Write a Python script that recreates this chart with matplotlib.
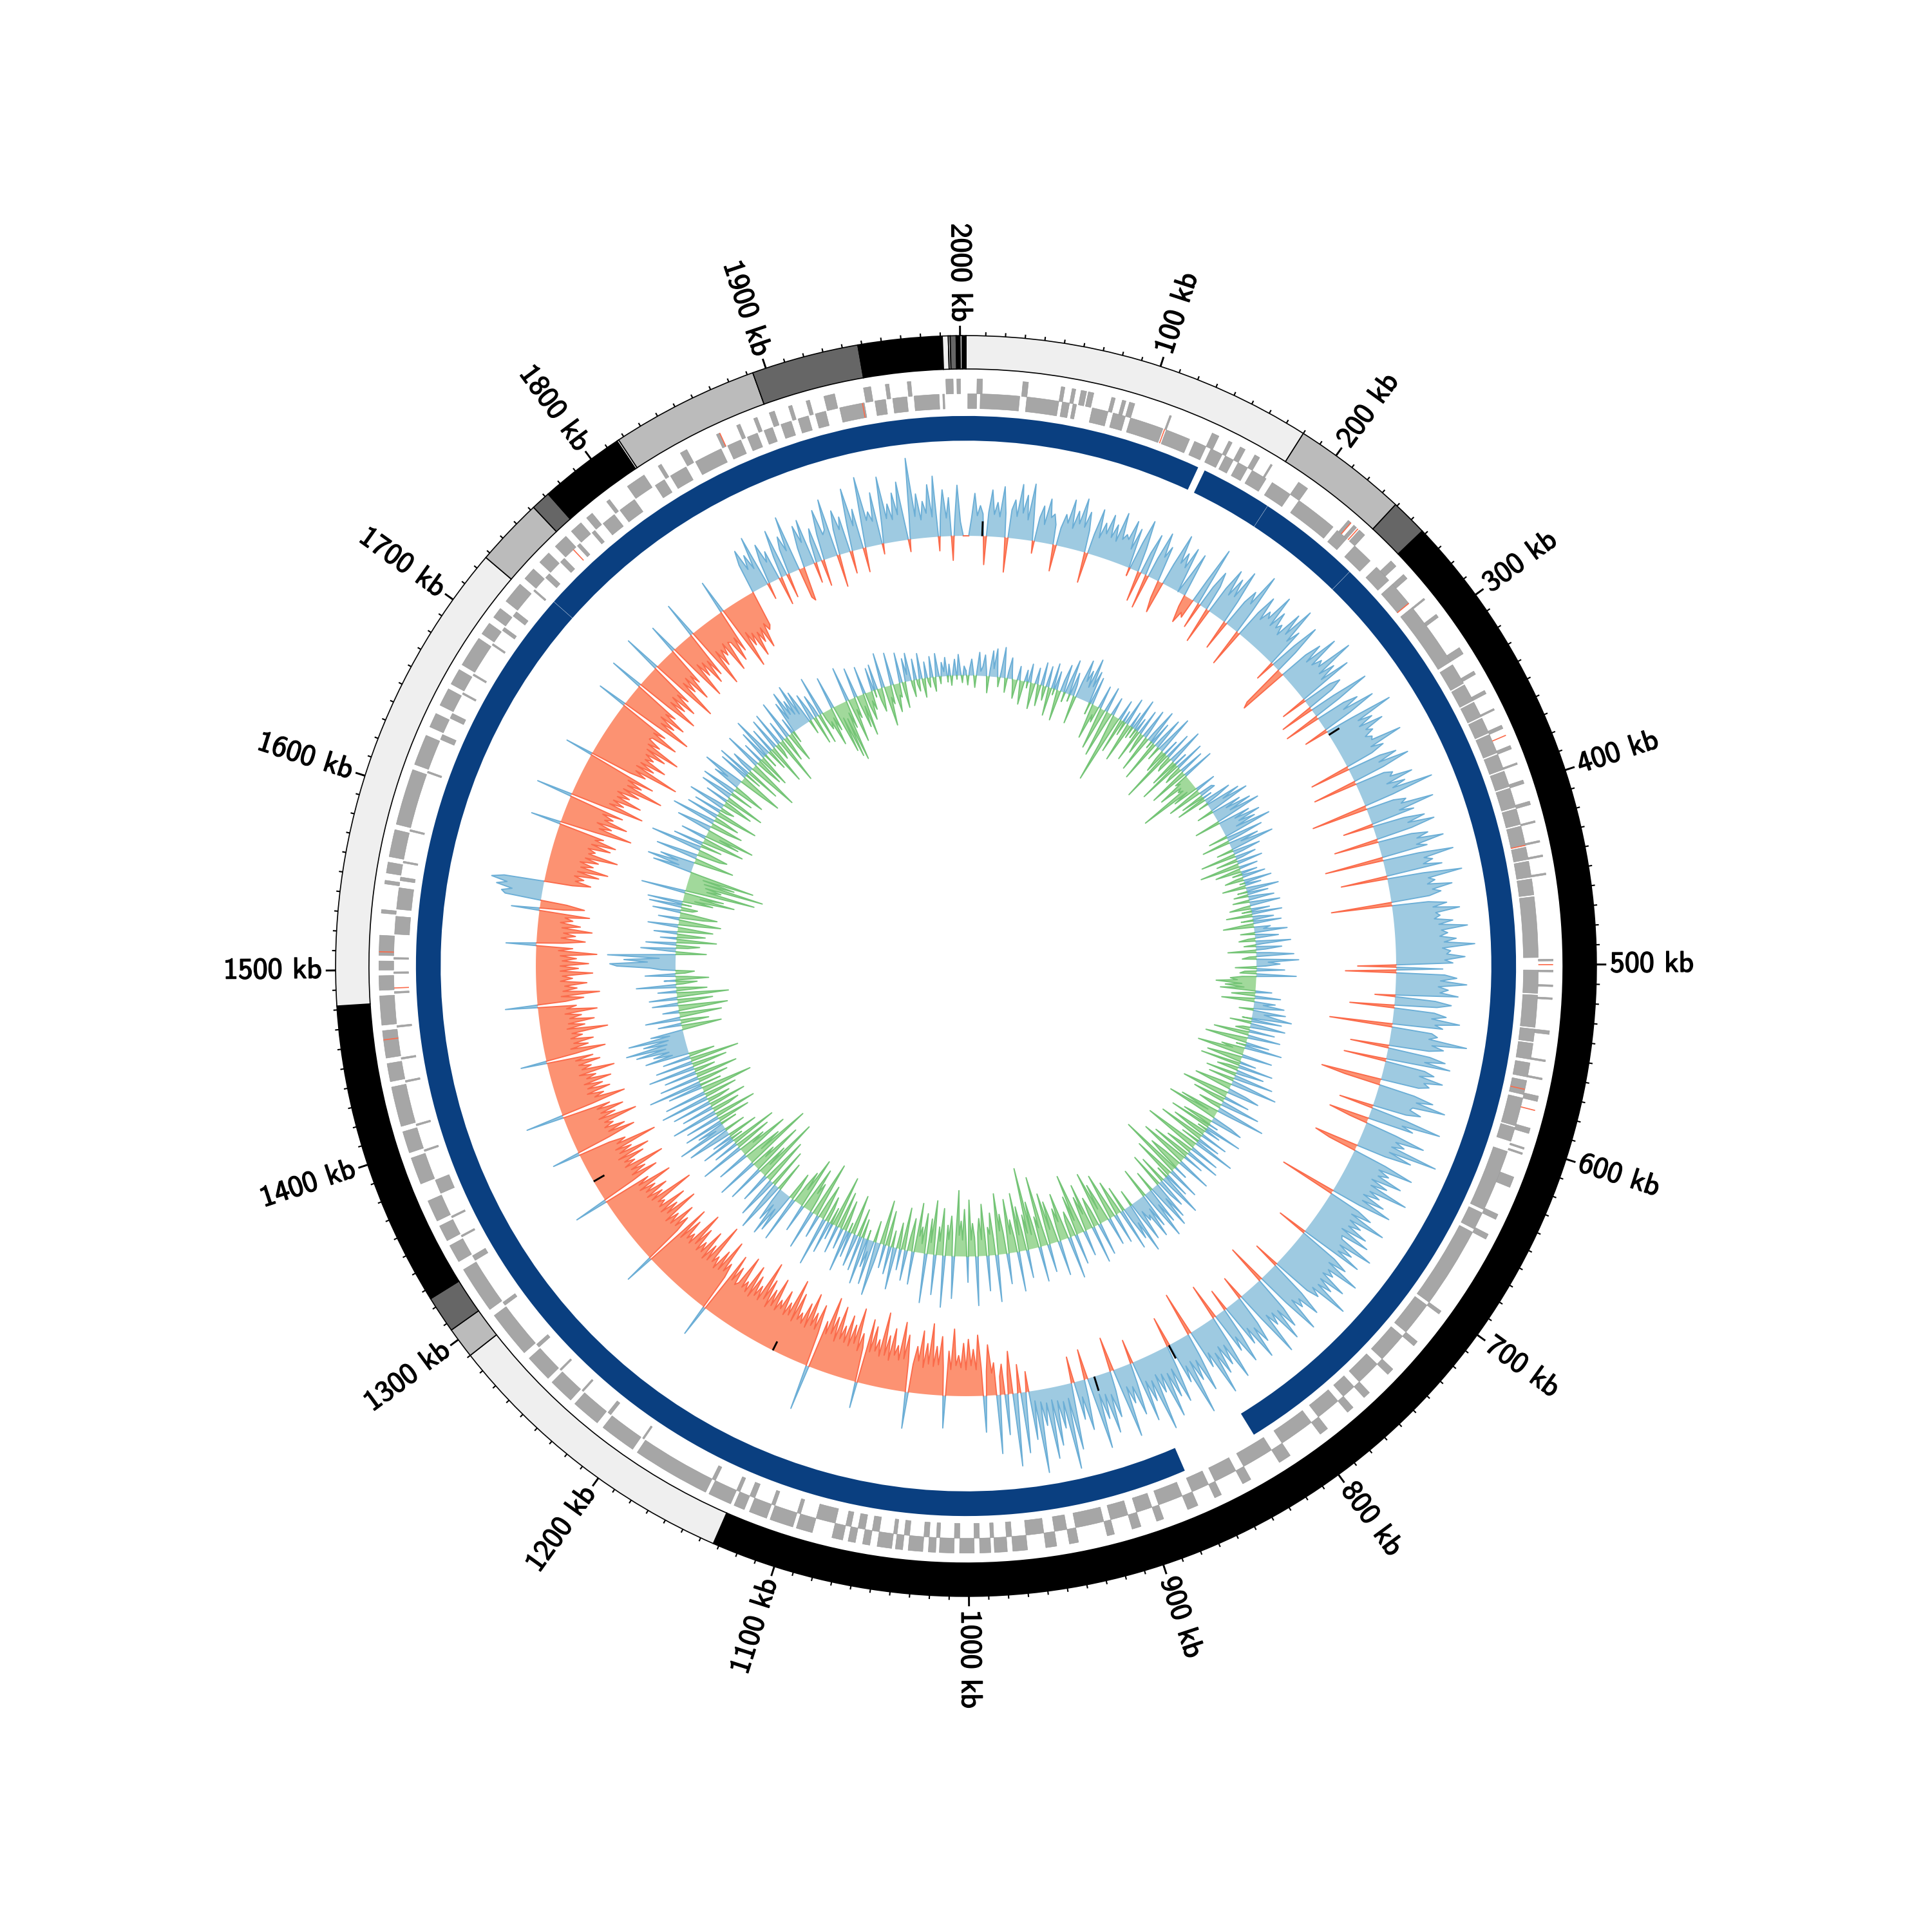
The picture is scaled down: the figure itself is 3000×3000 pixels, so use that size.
import matplotlib
matplotlib.use("Agg")
import matplotlib.pyplot as plt
import matplotlib.patheffects as pe
import numpy as np

genome_kb = 2003

# outer ideogram bands (kb)
band_edges = [0, 180, 239, 258, 1133, 1290, 1306, 1325, 1482, 1727, 1762, 1772, 1816, 1817, 1893, 1948, 1991, 1994, 1995, 1998, 2000, 2001, 2003]
band_shades = ["#efefef", "#bbbbbb", "#666666", "#000000", "#efefef", "#bbbbbb", "#666666", "#000000", "#efefef", "#bbbbbb", "#666666", "#000000", "#ffffff", "#bbbbbb", "#666666", "#000000", "#efefef", "#bbbbbb", "#666666", "#000000", "#efefef", "#000000"]

# scaffold blocks, kb
contig_starts = [143, 185, 246, 871, 1733]
contig_ends = [185, 246, 826, 1733, 2142]

gene_inner = [(1, 6), (8, 30), (34, 52), (54, 58), (60, 62), (71, 80), (83, 90), (93, 112), (114, 128), (131, 138), (141, 148), (150, 155), (158, 164),
              (167, 176), (180, 192), (198, 222), (225, 232), (238, 250), (255, 265), (268, 282), (285, 322), (324, 336), (337, 347), (348, 357), (358, 367),
              (368, 379), (380, 389), (390, 399), (400, 411), (412, 421), (422, 433), (434, 441), (442, 451), (452, 461), (462, 496), (503, 516), (517, 535),
              (536, 543), (544, 553), (555, 563), (565, 573), (575, 591), (592, 600), (606, 641), (643, 653), (655, 701), (703, 722), (725, 742), (746, 760),
              (764, 772), (776, 790), (795, 815), (822, 840), (845, 858), (862, 872), (878, 892), (896, 905), (910, 920), (924, 940), (945, 952), (958, 968),
              (976, 979), (986, 988), (994, 997), (1005, 1008), (1016, 1018), (1022, 1025), (1033, 1036), (1040, 1042), (1050, 1054), (1058, 1062), (1066, 1069),
              (1075, 1086), (1095, 1097), (1110, 1112), (1122, 1125), (1131, 1133), (1146, 1148), (1192, 1193), (1215, 1217), (1235, 1236), (1252, 1253),
              (1270, 1272), (1300, 1302), (1330, 1333), (1345, 1346), (1357, 1358), (1372, 1380), (1397, 1398), (1412, 1413), (1437, 1438), (1450, 1451),
              (1468, 1469), (1487, 1488), (1498, 1499), (1506, 1507), (1520, 1530), (1534, 1546), (1550, 1552), (1560, 1561), (1578, 1579), (1612, 1613),
              (1632, 1635), (1645, 1648), (1660, 1661), (1672, 1673), (1692, 1693), (1702, 1704), (1712, 1715), (1730, 1731), (1740, 1743), (1752, 1755), (1765, 1767),
              (1776, 1778), (1784, 1792), (1796, 1806), (1820, 1826), (1830, 1840), (1846, 1862), (1866, 1874), (1878, 1884), (1888, 1893), (1898, 1904), (1908, 1914),
              (1918, 1924), (1932, 1946), (1952, 1958), (1962, 1970), (1974, 1988), (1990, 1991)]

gene_outer = [(6, 9), (31, 34), (52, 54), (58, 60), (63, 66), (67, 70), (80, 82), (86, 88), (90, 93), (113, 114), (138, 142), (148, 150), (155, 158),
              (164, 167), (174, 175), (192, 198), (226, 228), (230, 232), (234, 238), (258, 262), (268, 271), (285, 286), (296, 298), (318, 322), (333, 335), (345, 347), (356, 357),
              (366, 368), (378, 380), (388, 389), (398, 400), (410, 412), (421, 422), (432, 433), (440, 441), (450, 451), (497, 498), (503, 504), (511, 512),
              (518, 519), (536, 538), (552, 553), (562, 563), (572, 575), (590, 593), (601, 602), (604, 605), (618, 624), (640, 643), (652, 655), (701, 703), (722, 725),
              (742, 746), (760, 764), (772, 776), (790, 795), (815, 822), (840, 845), (858, 862), (872, 878), (892, 896), (905, 910), (920, 924), (940, 945),
              (952, 958), (968, 976), (979, 986), (988, 994), (997, 1005), (1008, 1016), (1018, 1022), (1025, 1033), (1036, 1040), (1042, 1050),
              (1054, 1058), (1062, 1066), (1069, 1075), (1086, 1095), (1097, 1110), (1112, 1122), (1125, 1131), (1133, 1146), (1148, 1191), (1194, 1214), (1218, 1234),
              (1237, 1251), (1254, 1269), (1273, 1299), (1303, 1329), (1334, 1344), (1347, 1356), (1359, 1371), (1381, 1396), (1399, 1411), (1414, 1436), (1439, 1449),
              (1452, 1467), (1470, 1486), (1489, 1497), (1500, 1505), (1508, 1519), (1531, 1533), (1547, 1549), (1553, 1559), (1562, 1577), (1580, 1611), (1614, 1631),
              (1636, 1644), (1649, 1659), (1662, 1671), (1674, 1691), (1694, 1701), (1705, 1711), (1716, 1728), (1732, 1739), (1744, 1751), (1756, 1764), (1768, 1775),
              (1779, 1783), (1793, 1795), (1807, 1818), (1827, 1829), (1841, 1845), (1863, 1865), (1875, 1877), (1885, 1887), (1894, 1897), (1905, 1907), (1915, 1917),
              (1925, 1931), (1947, 1951), (1959, 1961), (1971, 1973), (1992, 1996), (1998, 2000)]

# (kb, outer lane?) genes in the highlight colour
gene_marks = [(113, 0), (228, 1), (233, 1), (282, 0), (372, 1), (433, 0), (500, 1), (570, 0), (580, 1), (1462, 1), (1490, 0), (1510, 1), (1762, 0), (1865, 1), (1945, 0)]

# short black marks on the composition track: kb and signed length
mark_kb = [12, 320, 845, 905, 1150, 1335]
mark_len = [12, 10, 12, 12, -8, -10]

# composition track, one row per 100 kb
gc_values = np.array([
    0, 0, 18, 42, 20, 30, 22, -28, 24, 46, 22, 34, 20, 50, 24, -34, 28, 38, 22, 54, 26, 44, 20, 56, 22, -12, 24, 36, 18, 44, 26, 30, 20, -26, 18, 32, 24, 48, 20, 38, 26, 52, 24, 40, 22, -30, 20, 46, 18, 34,
    24, 44, 22, 36, 20, 50, 24, 30, 26, 46, 18, 40, -8, 28, 52, 24, -30, 22, 42, -34, 20, 48, 24, 36, -18, -32, 22, 54, 26, 38, 24, 46, 0, 20, 44, -12, -28, -16, -20, 24, 60, -26, 22, 40, 26, -36, 28, 50, 24, 44,
    26, 56, 24, -30, 28, 42, 30, 64, 26, -38, 28, 48, 24, 36, 30, 58, 26, 44, 28, 34, 24, 52, 30, 62, 26, 40, -20, 28, 54, 24, -44, -50, 30, 46, 26, 60, 28, 38, 32, 68, 28, 44, 26, 56, -26, 30, 40, 28, -34, 26,
    62, 28, -36, 30, 44, 26, 58, 30, -24, 28, 70, 32, 46, 30, 54, 34, 40, 30, 36, 34, 64, 30, 42, 28, -40, 34, 50, 30, 60, 32, -44, 30, 38, 34, 56, 28, 46, 32, 72, 30, -56, 28, 40, 34, 66, 30, 44, -30, 32, 52,
    34, 60, 36, -44, 34, 50, 38, 64, 36, 46, -58, 36, 70, 40, 48, 38, 56, -46, 36, 74, 40, 46, 38, 62, 42, 50, 38, -60, 36, 54, 40, 66, 42, 46, 40, 58, 44, 72, 46, 52, 44, 60, 48, 78, 46, 54, 50, 68, 48, 56,
    -38, 46, -50, 48, 60, 44, 70, 42, 52, 44, 62, -20, 40, 56, 42, -44, 40, 52, 38, 66, 42, 50, -62, 40, 46, 38, 76, 42, 54, 40, -38, 42, 58, 38, 64, -42, 40, 50, 36, 60, 42, 48, 38, -60, -36, 36, 56, 40, 70, 38,
    36, 48, 34, -34, 36, 72, 34, 46, -40, -18, 32, 62, 34, 44, 32, 80, 32, 56, 30, -44, -28, 34, 64, 30, 42, 32, 58, 28, 46, 30, 70, 32, 44, 28, 52, 30, 62, 30, -56, 32, 48, 28, 66, 30, 44, 32, 54, 28, 60, 32,
    34, 70, 36, 52, 38, 64, -30, 40, 56, 38, 74, 42, 50, 40, 68, 42, 58, 44, 80, 42, 52, 40, -26, 38, 62, 40, 48, 36, 70, 34, -40, 36, 56, 34, 66, 32, 44, 30, 72, 30, -24, 30, 50, 32, 64, 28, 44, -22, 30, 58,
    28, 42, -36, 26, 66, 28, 48, 26, 54, 30, 72, 26, 40, -44, 24, 60, 26, 46, 24, 78, 26, 42, -30, 24, 58, 22, 50, 24, 68, 22, 40, 20, 76, 24, 44, 22, 62, -24, 20, 52, 22, 38, 20, 70, 18, -34, 20, 46, 22, 60,
    20, 44, 18, 72, 20, -30, 18, 50, 16, 38, -26, 16, 66, 14, 84, 16, 42, 14, 58, 12, 70, 14, 36, 12, 82, 10, 48, -20, 8, 60, -28, 6, 72, -42, -20, 40, -30, -18, 58, -32, -22, -50, -24, 36, -28, -60, -26, -46, -30, -56,
    -26, -52, -28, -40, -30, -66, -26, -44, 32, -28, -58, -30, -48, -28, -70, -30, -50, -26, -62, -32, -46, -28, 36, -30, -56, -32, -68, -30, -44, -34, -60, -28, -52, -32, -74, -30, -46, -34, -58, -32, -64, 26, -34, -48, -30, -72, -36, -54, -32, -62,
    -34, -50, -36, -68, -32, -56, -38, -74, -36, -48, 45, -34, -62, -36, -52, -38, -70, -34, -58, -36, -46, -38, -64, -34, -76, -38, -50, -36, -60, -40, -48, -36, -68, -38, -54, -34, -62, -40, -78, -36, -50, -38, -58, -34, -66, -36, -46, -38, -70, -40,
    -36, -54, -38, -64, 32, -36, -50, -40, -72, -38, -58, -36, -48, -40, -80, -38, -54, -36, -66, -40, -50, -38, -62, -42, -76, -38, -48, -40, -60, -36, -70, 30, -38, -54, -40, -64, -38, -50, -36, -74, -42, -56, -38, -68, -40, -48, -42, -82, -38, -52,
    -36, -60, -38, -50, -34, -70, -36, -48, 34, -34, -62, -36, -52, -38, -74, -34, -46, -36, -58, -32, -66, -36, -50, -34, -78, -38, -48, -32, 28, -34, -62, -36, -54, -34, -44, -36, -70, -32, -50, -36, -60, -34, -48, 38, -32, -66, -36, -46, -30, -54,
    -32, -48, -30, -58, -34, -44, -28, -64, -32, -42, -30, -52, -28, -46, 26, -30, -60, -26, -44, -30, -50, -28, -40, -30, -66, -26, -44, -28, -54, -30, -42, -26, -58, -28, -38, 32, -28, -46, -24, -62, -26, -40, -28, -50, -24, -36, -26, -56, -24, -42,
    -24, -52, -26, -40, -24, -60, -22, -36, 30, -26, -48, -24, -38, -26, -54, -24, -42, -22, -34, -26, -50, 28, -24, -44, -26, 36, 40, 30, 46, 36, 52, 40, -28, -46, -30, -38, -28, -52, -30, -60, -32, -44, -30, -48, -34, -66, -36, -42, -34, -56,
    -36, -60, -38, -46, 30, -36, -72, -38, -50, -34, -64, -40, -48, -36, -56, 36, -34, -74, -38, -52, -40, -68, -42, -54, -40, -62, -44, -84, -46, -60, -44, -70, 28, -42, -58, -46, -90, -44, -62, -46, -72, -48, -56, -46, -66, -44, -78, -42, -54, -40,
    -42, -68, -40, -52, 30, -38, -74, -40, -54, -36, -62, -38, -48, 34, -36, -66, -34, -50, -32, -58, -34, -46, 38, -32, -70, -30, -44, -28, -56, -30, -40, 30, -28, -62, -26, -42, -28, -54, -30, -48, 36, -26, -64, -28, -46, -30, -38, -26, -58, -28,
    -30, -52, -28, -44, 34, -26, -66, -30, -46, -34, -60, -36, -48, -34, -56, -32, -40, -36, 30, 44, 22, 36, 20, 52, -16, 24, 40, 20, 30, -28, 22, 48, -24, 26, 38, 22, 56, -30, -34, 20, 42, 24, 46, -20, 22, 34, -26, 26, 50, 24,
    28, 58, -32, 26, 44, 24, 36, -22, 26, 62, 24, 40, -24, 22, 70, 26, 34, 24, 52, -10, 20, 66, 24, 38, 22, 48, 26, 58, 20, -12, 24, 80, 22, 44, 18, 36, 24, 52, 20, 60, -14, 22, 46, 18, 38, -24, 16, 50, 14, 0,
], dtype=float)

# skew track, one row per 100 kb
skew_values = np.array([
    4, -8, 6, 14, 3, -10, 5, 20, 4, 8, 18, 5, -14, 6, 22, 7, 24, 6, -8, 5, 26, 7, -12, 6, 18, 5, -4, -16, -3, 12, -4, -20, -3, 10, -5, 16, -4, -22, -3, 14, -5, -18, 20, -4, -12, 18, -3, -24, 22, -5,
    16, -6, -26, 10, 24, -8, 12, 30, -6, 20, 10, -24, 14, 34, 16, 26, 12, 38, 14, 28, -10, 24, -8, -30, -8, -14, 20, -10, -36, -8, 22, -12, -40, -10, 16, -8, -26, -60, -6, 18, -30, 10, -12, 24, -6, -34, 14, -10, 28, -8,
    12, -28, 22, -8, -18, 26, 6, -32, 8, 30, -6, 20, -36, 8, 28, -12, 10, 34, -8, -20, 14, -46, 24, -10, -14, 32, 6, -24, 12, -38, 26, -10, -16, 22, -8, -34, 28, -12, -8, -30, -10, -14, -10, -52, -8, -22, 18, -8, -30, 12,
    14, -20, 8, -26, 24, 12, -8, 30, 14, 36, 10, -14, 26, 12, 34, 14, 40, 12, -22, 28, 14, 36, 16, 30, 12, 42, 14, -16, 32, 12, -24, 26, 10, 38, 12, -14, 24, 8, -30, 18, 6, -18, 22, -4, -34, 16, -6, -22, 14, -8,
    20, -6, -16, 24, -4, 14, -20, 6, 28, -8, 18, -12, 8, 22, -14, 6, 26, -6, -18, 16, -8, 26, -22, 6, 18, -10, 24, -8, -26, 14, 8, 28, -12, 6, 20, -6, -14, 30, 6, -10, 22, 8, -24, 12, 32, -6, -12, 36, 10, 20,
    8, -18, 24, -10, -14, 34, -12, -22, -16, -34, -12, -26, -10, -30, 14, -8, -20, 22, -6, -28, 18, 8, 26, 10, -12, 28, 10, 20, 34, -8, 26, -18, 10, 30, -6, -12, 22, -30, -8, 28, -6, -36, -14, 20, -8, 32, -20, -10, -40, -14,
    26, -12, -30, -10, 14, -34, 30, -8, -18, 24, 6, -26, 34, 8, -22, 12, 40, -10, -32, -12, 16, 28, -14, -40, -12, 22, -28, -10, 34, 8, -20, -8, 42, 10, -34, -8, -44, -12, 18, 28, -10, -26, 8, -36, 32, -8, 14, -30, -14, 24,
    -40, -12, 20, -16, 36, -10, -48, -14, 26, -12, -24, 30, -10, -34, 18, -14, -42, -12, 30, -16, -30, -18, 12, -54, -14, 28, -12, -36, 22, -10, 38, 12, -24, 26, 14, -30, 34, 14, 40, 16, -18, 32, 14, 44, 16, -26, 30, 12, 38, 16,
    20, 10, 36, 14, -14, 44, 16, 30, 12, -22, 36, -8, -30, -10, 26, -12, -40, -10, 24, -14, -34, -12, -46, -10, 28, -14, -26, -12, 32, -40, -14, -30, -10, 22, -16, -52, -12, -34, 26, -10, -22, -14, 36, -12, -40, -16, -28, -12, 30, -18,
    -36, -12, -44, -16, 24, -14, -60, -16, -26, 30, -18, -40, -12, -70, -14, -30, 24, -16, -38, -14, -50, 34, -12, -28, -16, -46, -14, 26, -18, -34, -20, -52, -16, 40, -14, -36, -18, -24, 30, -18, -44, -14, -32, -20, 42, -16, -28, -14, -48, 22,
    -16, -40, -14, -30, -18, -56, -12, 36, -20, -34, -14, -26, 44, -16, -40, -12, -24, 34, -14, -46, -10, -30, 42, -12, -34, -8, -22, -14, -42, 28, -8, -28, -12, 26, -8, -36, 18, -10, -22, 36, 8, -14, 24, -8, -30, 20, -10, -38, 16, 46,
    8, -18, 38, 10, 24, -8, 40, 8, -16, 30, -24, 6, 28, -12, -34, 22, -8, 36, -10, -26, 18, -10, -32, 24, -12, -44, 14, -14, 28, -12, -22, 42, -10, -30, -14, 20, -12, -48, -14, 34, -12, -26, -16, -38, -12, 24, -18, -44, -14, -30,
    -16, 40, -12, -24, 14, 36, 16, 42, 14, 30, 12, -26, 16, 44, 14, -34, 12, 36, -8, -40, -10, 26, -12, -56, -10, -28, 32, -14, -46, -12, -22, 36, -16, -60, -14, -34, -12, 28, -18, -44, -12, -24, 38, -10, -32, 22, -8, -40, 30, -10,
    18, -26, 10, 38, 12, -18, 44, 8, 24, -14, 34, -28, -6, 30, -36, -8, 40, -14, -24, 28, -6, -32, 34, -10, -20, 42, -8, -28, 36, -12, -44, -8, 30, -18, 46, -8, -26, 34, -14, -36, 28, -6, -18, 40, -10, -30, 32, -8, -42, 24,
    -6, -22, 38, 14, 30, 16, 44, 18, 52, 16, 36, 14, 48, 12, 28, -8, -34, -6, 20, -24, -10, 30, -8, -36, -6, 14, -20, -42, -8, 22, -12, -30, 24, -6, -44, -10, 16, -26, -8, 34, -6, -18, 10, -28, -10, 26, -8, -16, 12, 22,
    50, 56, 24, 44, 14, 58, 10, -26, 6, 30, -10, -20, 26, -8, -34, 14, -12, -24, 20, -6, -30, -8, 26, -14, -36, -10, 18, -20, -32, -12, 24, -10, -14, 28, -8, 30, -26, -10, -44, -14, -34, 38, -16, -60, -18, -30, -16, -66, -14, -40,
    -12, -56, -10, 34, 12, 40, 14, 30, -8, -34, -6, 36, 10, -20, -26, -8, 44, 8, -18, 26, -10, -36, -6, 22, -30, -12, -42, -8, 30, 12, -16, -28, 38, 10, -22, -8, 28, -14, -36, 24, -6, -12, 32, 8, -26, -10, 20, -34, -6, 28,
    10, -20, 30, 8, -28, -12, 24, 12, 36, 8, -22, -38, -6, 26, -14, 30, -30, 10, 20, -16, -44, -6, 32, -10, -24, 18, -28, -6, 26, -12, 36, 8, -18, 22, -34, -4, 28, -14, -8, 30, -40, -6, 18, -22, -6, 34, -12, -26, 14, -10,
    28, 12, 36, 14, 26, 12, 38, 10, 30, 12, -12, 24, 10, -24, 20, 8, -26, 34, -6, -16, -10, -32, -8, -20, 28, -10, -42, -12, -48, -14, -52, -10, -24, 30, -8, -38, -10, -18, 26, -8, -28, -10, -36, 24, -12, -24, -8, -16, 20, -6,
    22, -10, -20, -8, 30, -12, -34, -10, -16, 28, -8, -24, -10, -12, 26, -6, -22, 20, 6, 24, -4, -14, 18, -4, -10, 22, -3, -16, 14, -3, -8, 18, -3, -12, 20, 4, -6, 12, 4, 16, -5, 10, -8, 4, 14, -3, 18, 4, -6, 8,
], dtype=float)

label_kb = list(range(100, 2001, 100))
minor_kb = list(range(10, 2001, 10))


def kb2rad(kb):
    return 2 * np.pi * np.asarray(kb, dtype=float) / genome_kb


def add_crossings(kb, vals):
    # put a zero point wherever the sign flips so the two colours meet on the baseline
    out_x, out_y = [kb[0]], [vals[0]]
    for i in range(1, len(kb)):
        if vals[i - 1] * vals[i] < 0:
            frac = vals[i - 1] / (vals[i - 1] - vals[i])
            out_x.append(kb[i - 1] + frac * (kb[i] - kb[i - 1]))
            out_y.append(0.0)
        out_x.append(kb[i])
        out_y.append(vals[i])
    return np.array(out_x), np.array(out_y)


def draw_track(ax, vals, base, scale, up_line, up_fill, down_line, down_fill):
    step = genome_kb / len(vals)
    kb = np.arange(len(vals) + 1) * step
    x, y = add_crossings(kb, np.append(vals, vals[0]) * scale)
    th = kb2rad(x)
    ax.fill_between(th, base, base + y, where=y >= 0, color=up_fill, lw=0)
    ax.fill_between(th, base, base + y, where=y <= 0, color=down_fill, lw=0)
    ax.plot(th, np.ma.masked_where(y < 0, base + y), color=up_line, lw=0.45)
    ax.plot(th, np.ma.masked_where(y > 0, base + y), color=down_line, lw=0.45)


fig = plt.figure(figsize=(10, 10), dpi=300)
ax = fig.add_axes([0, 0, 1, 1], projection="polar")
ax.set_theta_zero_location("N")
ax.set_theta_direction(-1)
ax.set_ylim(0, 781.5)
ax.axis("off")

# ideogram
for i, shade in enumerate(band_shades):
    a, b = band_edges[i], band_edges[i + 1]
    ax.bar(kb2rad((a + b) / 2), 27, width=kb2rad(b - a), bottom=483, color=shade, edgecolor="black", lw=0.4)

# ticks and labels
ax.vlines(kb2rad(minor_kb), 510, 513, color="black", lw=0.5)
ax.vlines(kb2rad(label_kb), 510, 518, color="black", lw=0.7)
for kb in label_kb:
    deg = 360.0 * kb / genome_kb
    if deg < 180:
        rot, ha = 90 - deg, "left"
    else:
        rot, ha = 270 - deg, "right"
    txt = ax.text(kb2rad(kb), 521, f"{kb} kb", rotation=rot, rotation_mode="anchor", ha=ha, va="center",
                  family="cmss10", fontsize=11)
    txt.set_path_effects([pe.withStroke(linewidth=0.35, foreground="black")])

# genes, two lanes
for start, end in gene_outer:
    ax.bar(kb2rad((start + end) / 2), 12, width=kb2rad(end - start), bottom=463, color="#a6a6a6", edgecolor="#999999", lw=0.15)
for start, end in gene_inner:
    ax.bar(kb2rad((start + end) / 2), 12, width=kb2rad(end - start), bottom=451, color="#a6a6a6", edgecolor="#999999", lw=0.15)
for kb, lane in gene_marks:
    ax.bar(kb2rad(kb), 12, width=kb2rad(0.6), bottom=463 if lane else 451, color="#fb6a4a", edgecolor="none")

# scaffolds
for start, end in zip(contig_starts, contig_ends):
    ax.bar(kb2rad((start + end) / 2), 20, width=kb2rad(end - start - 0.15), bottom=425, color="#0a3f80", edgecolor="none")

draw_track(ax, gc_values, 348, 0.82, "#6baed6", "#9ecae1", "#fb6a4a", "#fc9272")
draw_track(ax, skew_values, 235, 0.95, "#6baed6", "#9ecae1", "#74c476", "#a1d99b")
ax.vlines(kb2rad(mark_kb), 348, 348 + np.array(mark_len), color="black", lw=0.7)

fig.savefig("out.png", dpi=300, facecolor="white")
